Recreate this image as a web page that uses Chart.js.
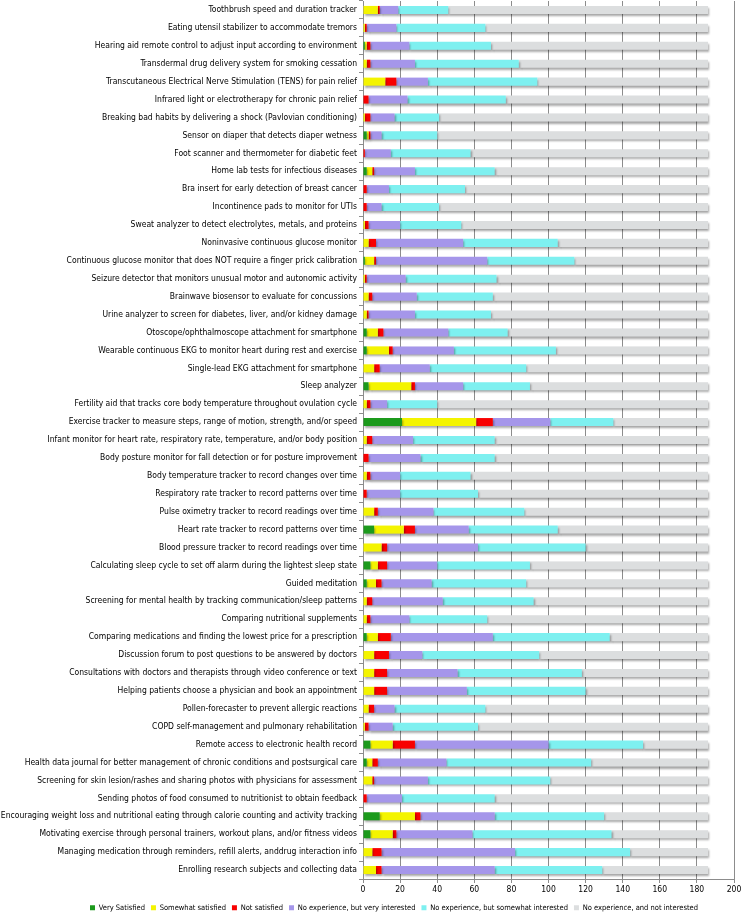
<!DOCTYPE html>
<html>
<head>
<meta charset="utf-8">
<script src="https://cdn.jsdelivr.net/npm/chart.js@4.4.0/dist/chart.umd.min.js"></script>
<style>
  html, body { margin: 0; padding: 0; background: #fff; }
  #wrap { width: 741px; height: 915px; position: relative; }
</style>
</head>
<body>
<div id="wrap"><canvas id="chart"></canvas></div>
<script>
const categories = [
  'Toothbrush speed and duration tracker',
  'Eating utensil stabilizer to accommodate tremors',
  'Hearing aid remote control to adjust input according to environment',
  'Transdermal drug delivery system for smoking cessation',
  'Transcutaneous Electrical Nerve Stimulation (TENS) for pain relief',
  'Infrared light or electrotherapy for chronic pain relief',
  'Breaking bad habits by delivering a shock (Pavlovian conditioning)',
  'Sensor on diaper that detects diaper wetness',
  'Foot scanner and thermometer for diabetic feet',
  'Home lab tests for infectious diseases',
  'Bra insert for early detection of breast cancer',
  'Incontinence pads to monitor for UTIs',
  'Sweat analyzer to detect electrolytes, metals, and proteins',
  'Noninvasive continuous glucose monitor',
  'Continuous glucose monitor that does NOT require a finger prick calibration',
  'Seizure detector that monitors unusual motor and autonomic activity',
  'Brainwave biosensor to evaluate for concussions',
  'Urine analyzer to screen for diabetes, liver, and/or kidney damage',
  'Otoscope/ophthalmoscope attachment for smartphone',
  'Wearable continuous EKG to monitor heart during rest and exercise',
  'Single-lead EKG attachment for smartphone',
  'Sleep analyzer',
  'Fertility aid that tracks core body temperature throughout ovulation cycle',
  'Exercise tracker to measure steps, range of motion, strength, and/or speed',
  'Infant monitor for heart rate, respiratory rate, temperature, and/or body position',
  'Body posture monitor for fall detection or for posture improvement',
  'Body temperature tracker to record changes over time',
  'Respiratory rate tracker to record patterns over time',
  'Pulse oximetry tracker to record readings over time',
  'Heart rate tracker to record patterns over time',
  'Blood pressure tracker to record readings over time',
  'Calculating sleep cycle to set off alarm during the lightest sleep state',
  'Guided meditation',
  'Screening for mental health by tracking communication/sleep patterns',
  'Comparing nutritional supplements',
  'Comparing medications and finding the lowest price for a prescription',
  'Discussion forum to post questions to be answered by doctors',
  'Consultations with doctors and therapists through video conference or text',
  'Helping patients choose a physician and book an appointment',
  'Pollen-forecaster to prevent allergic reactions',
  'COPD self-management and pulmonary rehabilitation',
  'Remote access to electronic health record',
  'Health data journal for better management of chronic conditions and postsurgical care',
  'Screening for skin lesion/rashes and sharing photos with physicians for assessment',
  'Sending photos of food consumed to nutritionist to obtain feedback',
  'Encouraging weight loss and nutritional eating through calorie counting and activity tracking',
  'Motivating exercise through personal trainers, workout plans, and/or fitness videos',
  'Managing medication through reminders, refill alerts, anddrug interaction info',
  'Enrolling research subjects and collecting data'
];

const verySatisfied = [0,0,1,0,0,0,0,2,0,2,0,0,0,0,1,0,0,0,2,2,0,3,0,21,0,0,0,0,0,6,0,4,2,0,0,2,0,0,0,0,0,4,2,0,0,9,4,0,0];
const somewhatSatisfied = [8,1,1,2,12,0,1,1,0,3,0,0,1,3,5,1,3,2,6,12,6,23,2,40,2,0,2,0,6,16,10,4,5,2,2,6,6,6,6,3,1,12,3,5,0,19,12,5,7];
const notSatisfied = [1,1,2,2,6,3,3,1,1,1,2,2,2,4,1,1,2,1,3,2,3,2,2,9,3,3,2,2,2,6,3,5,3,3,2,7,8,7,7,3,2,12,3,1,2,3,2,5,3];
const veryInterested = [10,16,21,24,17,21,13,6,14,22,12,8,17,47,60,21,24,25,35,33,27,26,9,31,22,28,16,18,30,29,49,27,27,38,21,55,18,38,43,11,13,72,37,29,19,40,41,72,61];
const somewhatInterested = [27,48,44,56,59,53,24,30,43,43,41,31,33,51,47,49,41,41,32,55,52,36,27,34,44,40,38,42,49,48,58,50,51,49,42,63,63,67,64,49,46,51,78,66,50,59,75,62,58];
const notInterested = [140,120,117,102,92,109,145,146,128,115,131,145,133,81,72,114,116,117,108,82,98,96,146,51,115,115,128,124,99,81,66,96,98,94,119,53,91,68,66,120,124,35,63,85,115,56,52,42,57];

const xTicks = [0, 20, 40, 60, 80, 100, 120, 140, 160, 180, 200];

const seriesNames = [
  'Very Satisfied',
  'Somewhat satisfied',
  'Not satisfied',
  'No experience, but very interested',
  'No experience, but somewhat interested',
  'No experience, and not interested'
];
const seriesData = [verySatisfied, somewhatSatisfied, notSatisfied, veryInterested, somewhatInterested, notInterested];
const seriesColors = ['#1c9a1c', '#f4f400', '#f80000', '#a596ea', '#7ef0f0', '#dcdedf'];

const FONT = '"Liberation Sans Narrow", "DejaVu Sans Condensed", "Liberation Sans", sans-serif';

// soft drop shadow under the bars, like the office chart
const barShadow = {
  id: 'barShadow',
  beforeDatasetsDraw(chart) {
    const ctx = chart.ctx;
    ctx.save();
    ctx.shadowColor = 'rgba(0,0,0,0.35)';
    ctx.shadowOffsetX = 1;
    ctx.shadowOffsetY = 2;
    ctx.shadowBlur = 2;
  },
  afterDatasetsDraw(chart) {
    chart.ctx.restore();
  }
};

// keep the legend to a single short strip, nudged right like the original
const legendBox = {
  id: 'legendBox',
  afterInit(chart) {
    const lg = chart.legend;
    const fit = lg.fit;
    lg.fit = function () { fit.call(this); this.height = 19; };
  },
  afterLayout(chart) {
    const lg = chart.legend;
    lg.left += 27;
    lg.right += 27;
    lg.top += 2;
    lg.bottom += 2;
  }
};

new Chart(document.getElementById('chart').getContext('2d'), {
  type: 'bar',
  data: {
    labels: categories,
    datasets: seriesNames.map((name, i) => ({
      label: name,
      data: seriesData[i],
      backgroundColor: seriesColors[i],
      borderWidth: 0,
      barPercentage: 0.45,
      categoryPercentage: 1
    }))
  },
  options: {
    indexAxis: 'y',
    responsive: true,
    maintainAspectRatio: false,
    animation: false,
    layout: { padding: { top: 1, right: 7, left: 0, bottom: 0 } },
    plugins: {
      legend: {
        position: 'bottom',
        labels: {
          boxWidth: 5,
          boxHeight: 5,
          padding: 6,
          color: '#000',
          font: { family: FONT, size: 7.5 }
        }
      },
      tooltip: { enabled: false }
    },
    scales: {
      x: {
        stacked: true,
        min: 0,
        max: 200,
        afterBuildTicks: axis => { axis.ticks = xTicks.map(v => ({ value: v })); },
        afterFit: axis => { axis.height = 17; axis.paddingLeft = 0; axis.paddingRight = 0; },
        grid: {
          color: '#8c8c8c',
          tickLength: 4,
          drawTicks: true
        },
        border: { color: '#8c8c8c' },
        ticks: {
          color: '#000',
          padding: 2,
          maxRotation: 0,
          font: { family: FONT, size: 8.5 }
        }
      },
      y: {
        stacked: true,
        afterFit: axis => { axis.width = 363; axis.paddingTop = 0; axis.paddingBottom = 0; },
        grid: {
          offset: true,
          drawOnChartArea: false,
          tickLength: 4,
          color: '#8c8c8c'
        },
        border: { color: '#8c8c8c' },
        ticks: {
          autoSkip: false,
          color: '#000',
          padding: 2,
          font: { family: FONT, size: 8.5 }
        }
      }
    }
  },
  plugins: [barShadow, legendBox]
});
</script>
</body>
</html>
